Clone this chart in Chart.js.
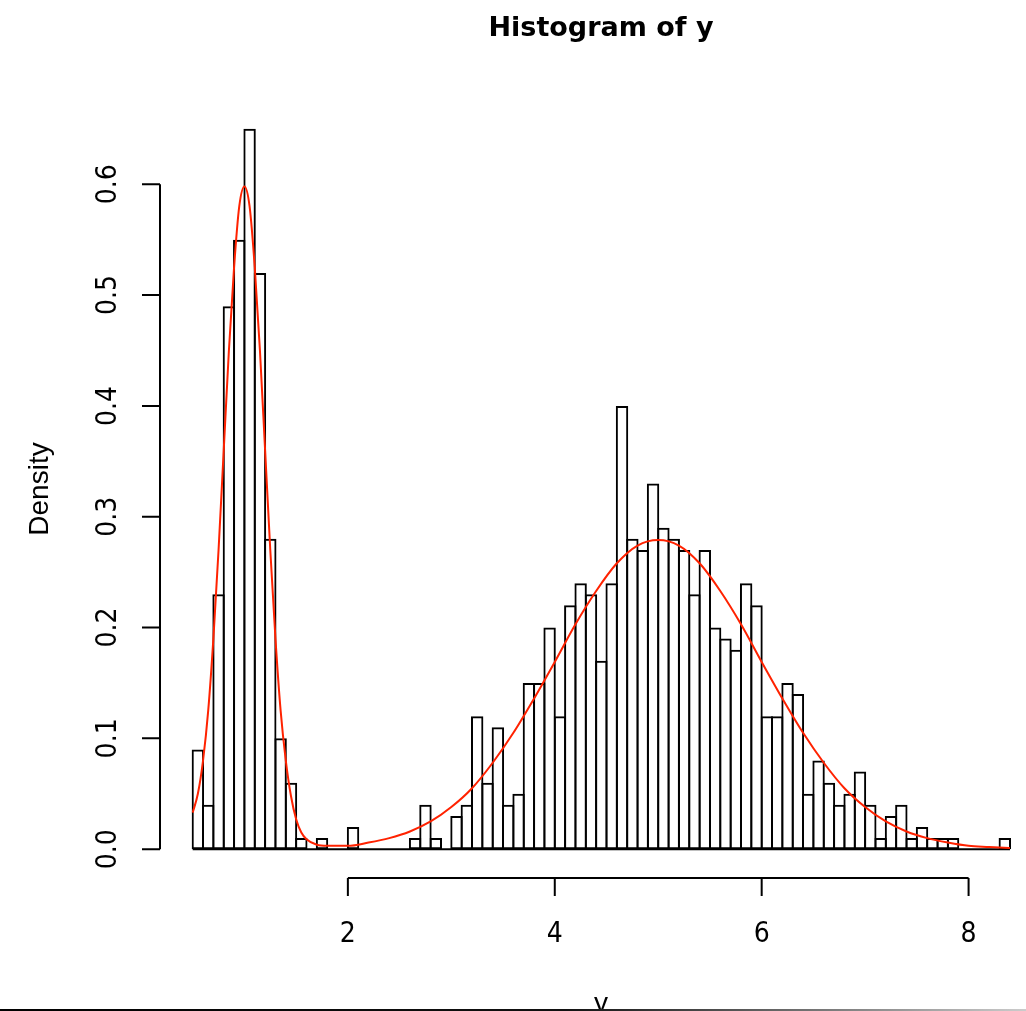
<!DOCTYPE html>
<html>
<head>
<meta charset="utf-8">
<title>Histogram of y</title>
<script src="https://cdn.jsdelivr.net/npm/chart.js@4.4.1/dist/chart.umd.min.js"></script>
<style>
  html, body { margin: 0; padding: 0; background: #fff; }
  #wrap { position: relative; width: 1026px; height: 1011px; overflow: hidden; }
  #edge { position: absolute; left: 0; right: 0; bottom: 0; height: 2px;
          background: linear-gradient(to right, #000 0%, #111 55%, #777 80%, #ccc 100%); }
</style>
</head>
<body>
<div id="wrap">
  <canvas id="histChart" width="1026" height="1011"></canvas>
  <div id="edge"></div>
</div>
<script>
// histogram breaks (bin width 0.1)
const breaks = [0.5, 0.6, 0.7, 0.8, 0.9, 1.0, 1.1, 1.2, 1.3, 1.4, 1.5, 1.6, 1.7, 1.8, 1.9,
    2.0, 2.1, 2.2, 2.3, 2.4, 2.5, 2.6, 2.7, 2.8, 2.9, 3.0, 3.1, 3.2, 3.3, 3.4, 3.5, 3.6, 3.7, 3.8, 3.9,
    4.0, 4.1, 4.2, 4.3, 4.4, 4.5, 4.6, 4.7, 4.8, 4.9, 5.0, 5.1, 5.2, 5.3, 5.4, 5.5, 5.6, 5.7, 5.8, 5.9,
    6.0, 6.1, 6.2, 6.3, 6.4, 6.5, 6.6, 6.7, 6.8, 6.9, 7.0, 7.1, 7.2, 7.3, 7.4, 7.5, 7.6, 7.7, 7.8, 7.9,
    8.0, 8.1, 8.2, 8.3, 8.4];

// density of each bin
const density = [0.09, 0.04, 0.23, 0.49, 0.55, 0.65, 0.52, 0.28, 0.10, 0.06, 0.01, 0, 0.01, 0, 0,
    0.02, 0, 0, 0, 0, 0, 0.01, 0.04, 0.01, 0, 0.03, 0.04, 0.12, 0.06, 0.11, 0.04, 0.05, 0.15, 0.15, 0.20,
    0.12, 0.22, 0.24, 0.23, 0.17, 0.24, 0.40, 0.28, 0.27, 0.33, 0.29, 0.28, 0.27, 0.23, 0.27, 0.20, 0.19, 0.18, 0.24, 0.22,
    0.12, 0.12, 0.15, 0.14, 0.05, 0.08, 0.06, 0.04, 0.05, 0.07, 0.04, 0.01, 0.03, 0.04, 0.01, 0.02, 0.01, 0.01, 0.01, 0,
    0, 0, 0, 0.01];

// red density curve
const curveX = [0.5, 0.55, 0.6, 0.65, 0.7, 0.75, 0.8, 0.85, 0.9, 0.95, 1.0, 1.05, 1.1, 1.15, 1.2, 1.25,
    1.3, 1.35, 1.4, 1.45, 1.5, 1.55, 1.6, 1.7, 1.8, 1.9, 2.0, 2.2, 2.4, 2.6, 2.8, 3.0, 3.2, 3.4, 3.6, 3.8,
    4.0, 4.2, 4.4, 4.6, 4.8, 5.0, 5.2, 5.4, 5.6, 5.8, 6.0, 6.2, 6.4, 6.6, 6.8, 7.0, 7.2, 7.4, 7.6, 7.8,
    8.0, 8.2, 8.4];
const curveY = [0.033, 0.05, 0.08, 0.125, 0.19, 0.27, 0.36, 0.45, 0.525, 0.58, 0.598, 0.58, 0.525, 0.45, 0.36, 0.27,
    0.19, 0.125, 0.08, 0.048, 0.027, 0.015, 0.009, 0.004, 0.003, 0.003, 0.003, 0.006, 0.01, 0.016, 0.025, 0.038, 0.055, 0.078, 0.105, 0.136,
    0.169, 0.203, 0.233, 0.258, 0.274, 0.279, 0.274, 0.258, 0.233, 0.203, 0.169, 0.136, 0.105, 0.078, 0.055, 0.038, 0.025, 0.016, 0.01, 0.006,
    0.003, 0.002, 0.001];

const xTicks = [2, 4, 6, 8];
const yTicks = [0, 0.1, 0.2, 0.3, 0.4, 0.5, 0.6];

const mids = density.map((d, i) => (breaks[i] + breaks[i + 1]) / 2);

const tickFont = "28px 'Liberation Sans Narrow', 'DejaVu Sans Condensed', sans-serif";
const labelFont = "28px 'Liberation Sans', Arial, sans-serif";

// R style detached axes, drawn from the chart's scales
const rAxes = {
    id: "rAxes",
    afterDraw(chart) {
        const ctx = chart.ctx;
        const xs = chart.scales.x;
        const ys = chart.scales.y;
        const area = chart.chartArea;
        ctx.save();
        ctx.strokeStyle = "#000";
        ctx.fillStyle = "#000";
        ctx.lineWidth = 2;

        // y axis
        const ax = Math.round(area.left);
        ctx.beginPath();
        ctx.moveTo(ax, ys.getPixelForValue(yTicks[0]));
        ctx.lineTo(ax, ys.getPixelForValue(yTicks[yTicks.length - 1]));
        yTicks.forEach(t => {
            const p = ys.getPixelForValue(t);
            ctx.moveTo(ax, p);
            ctx.lineTo(ax - 18, p);
        });
        ctx.stroke();
        ctx.font = tickFont;
        ctx.textAlign = "center";
        ctx.textBaseline = "middle";
        yTicks.forEach(t => {
            ctx.save();
            ctx.translate(109, ys.getPixelForValue(t));
            ctx.rotate(-Math.PI / 2);
            ctx.fillText(t.toFixed(1), 0, 0);
            ctx.restore();
        });

        // x axis
        const ay = Math.round(area.bottom);
        ctx.beginPath();
        ctx.moveTo(xs.getPixelForValue(xTicks[0]), ay);
        ctx.lineTo(xs.getPixelForValue(xTicks[xTicks.length - 1]), ay);
        xTicks.forEach(t => {
            const p = xs.getPixelForValue(t);
            ctx.moveTo(p, ay);
            ctx.lineTo(p, ay + 18);
        });
        ctx.stroke();
        xTicks.forEach(t => ctx.fillText(String(t), xs.getPixelForValue(t), 935));

        // axis titles
        ctx.font = labelFont;
        ctx.save();
        ctx.translate(40, 489);
        ctx.rotate(-Math.PI / 2);
        ctx.fillText("Density", 0, 0);
        ctx.restore();
        ctx.textBaseline = "alphabetic";
        ctx.fillText("y", 601, 1012);

        // main title
        ctx.font = "bold 27px 'DejaVu Sans', sans-serif";
        ctx.textBaseline = "middle";
        ctx.fillText("Histogram of y", 601, 29);
        ctx.restore();
    }
};

new Chart(document.getElementById("histChart"), {
    type: "bar",
    data: {
        datasets: [
            {
                type: "line",
                label: "density",
                data: curveX.map((x, i) => ({ x: x, y: curveY[i] })),
                borderColor: "#ff2200",
                borderWidth: 2,
                pointRadius: 0,
                cubicInterpolationMode: "monotone",
                order: 0,
            },
            {
                type: "line",
                label: "baseline",
                data: [{ x: breaks[0], y: 0 }, { x: breaks[breaks.length - 1], y: 0 }],
                borderColor: "#000",
                borderWidth: 2,
                pointRadius: 0,
                order: 1,
            },
            {
                label: "y",
                data: mids.map((x, i) => ({ x: x, y: density[i] })),
                backgroundColor: "rgba(0,0,0,0)",
                borderColor: "#000",
                borderWidth: 2,
                borderSkipped: false,
                inflateAmount: 0,
                barPercentage: 1.2,
                categoryPercentage: 1,
                order: 2,
            },
        ],
    },
    options: {
        responsive: false,
        animation: false,
        events: [],
        layout: { padding: { left: 160, right: 0, top: 100, bottom: 133 } },
        plugins: {
            legend: { display: false },
            tooltip: { enabled: false },
        },
        scales: {
            x: { type: "linear", min: 0.184, max: 8.555, offset: false, display: false },
            y: { type: "linear", min: -0.026, max: 0.676, display: false },
        },
    },
    plugins: [rAxes],
});
</script>
</body>
</html>
